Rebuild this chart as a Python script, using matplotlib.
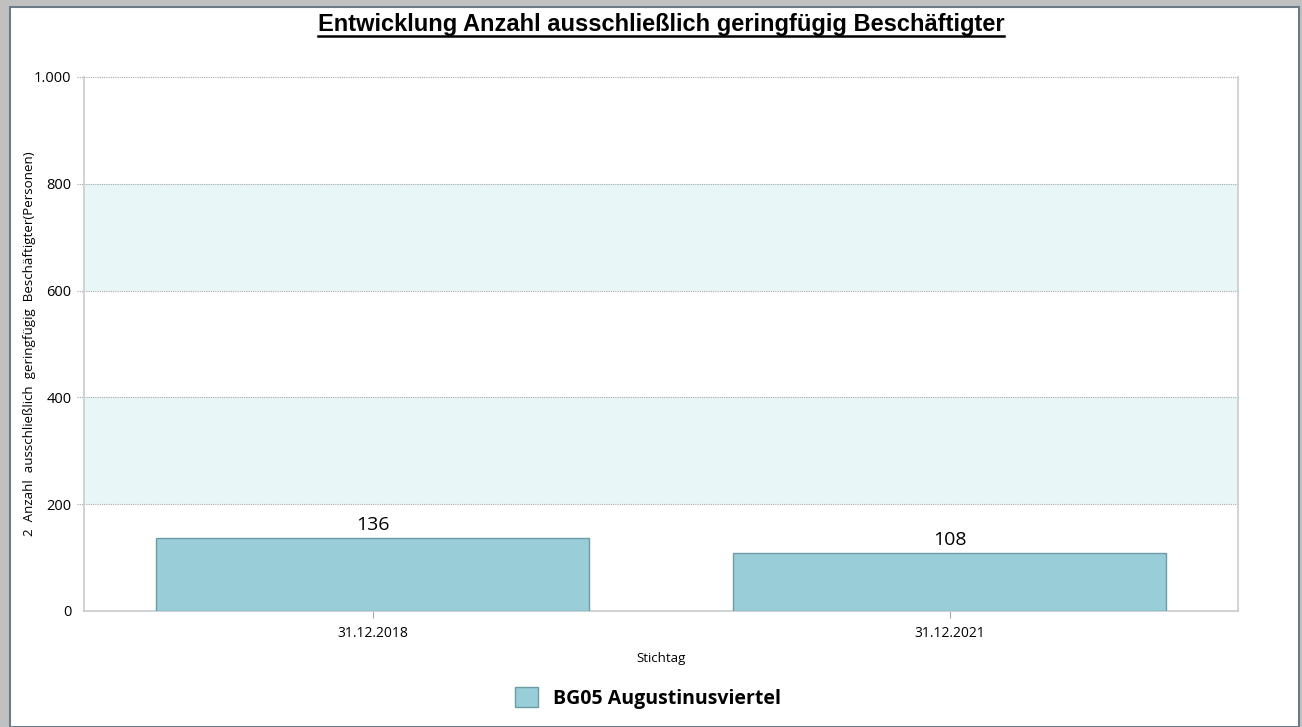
import matplotlib.pyplot as plt
import matplotlib.patches as mpatches
from matplotlib.lines import Line2D

# Data
categories = ["31.12.2018", "31.12.2021"]
values = [136, 108]
series_name = "BG05 Augustinusviertel"
y_ticks = [0, 200, 400, 600, 800, 1000]
y_tick_labels = ["0", "200", "400", "600", "800", "1.000"]

title = "Entwicklung Anzahl ausschließlich geringfügig Beschäftigter"
y_label = "2  Anzahl  ausschließlich  geringfügig  Beschäftigter(Personen)"
x_label = "Stichtag"

BAR_COLOR = "#99cdd7"
BAR_EDGE = "#6b9ca6"
BAND_COLOR = "#e8f6f8"
GRID_COLOR = "#a8a8a8"
SPINE_COLOR = "#c8ccd0"
FONT = ["Open Sans", "DejaVu Sans"]

W, H = 1302, 727
fig = plt.figure(figsize=(W / 100, H / 100), dpi=100, facecolor="#c0c0c0")

# white panel with dark edge (window frame look), kept behind the axes
panel = mpatches.Rectangle((10 / W, 0), (1299 - 10) / W, (H - 7) / H,
                           transform=fig.transFigure, facecolor="white",
                           edgecolor="#6b7b88", linewidth=1.5, zorder=-10)
fig.patches.append(panel)

ax = fig.add_axes([84 / W, (H - 611) / H, 1154 / W, 534 / H])
ax.set_facecolor("white")

# alternating bands
for lo in (200, 600):
    ax.axhspan(lo, lo + 200, color=BAND_COLOR, zorder=0, lw=0)

# dotted grid lines that poke out left like ticks
for y in y_ticks[1:]:
    ax.axhline(y, xmin=-7 / 1154, xmax=1, color=GRID_COLOR, lw=0.8,
               ls=(0, (1, 1)), clip_on=False, zorder=1)

x = list(range(len(categories)))
bars = ax.bar(x, values, width=0.75, color=BAR_COLOR, edgecolor=BAR_EDGE,
              linewidth=1.0, zorder=3)
for rect, v in zip(bars, values):
    ax.text(rect.get_x() + rect.get_width() / 2, v + 8, str(v),
            ha="center", va="bottom", fontsize=14, family=FONT, zorder=4)

ax.set_xlim(-0.5, 1.5)
ax.set_ylim(0, 1000)
ax.set_yticks(y_ticks)
ax.set_yticklabels(y_tick_labels, family=FONT, fontsize=10.5)
ax.set_xticks(x)
ax.set_xticklabels(categories, family=FONT, fontsize=10)
ax.tick_params(axis="y", length=0, pad=9)
ax.tick_params(axis="x", length=5, color=GRID_COLOR, pad=6)
for t in ax.xaxis.get_ticklines():
    t.set_linestyle((0, (1, 1)))

for side in ("left", "right", "bottom"):
    ax.spines[side].set_color(SPINE_COLOR)
    ax.spines[side].set_linewidth(1.2)
ax.spines["top"].set_visible(False)

ax.set_ylabel(y_label, family=FONT, fontsize=9.6)
ax.yaxis.set_label_coords(-0.042, 0.5)
ax.set_xlabel(x_label, family=FONT, fontsize=9.5, labelpad=8)

# title with underline
t = fig.text(661 / W, 1 - 24 / H, title, ha="center", va="center",
             fontsize=17, fontweight="bold", family=["Liberation Sans", "DejaVu Sans"])
fig.canvas.draw()
bb = t.get_window_extent().transformed(fig.transFigure.inverted())
fig.add_artist(Line2D([bb.x0, bb.x1], [bb.y0 - 0.001, bb.y0 - 0.001],
                      transform=fig.transFigure, color="black", lw=1.8))

# legend
handle = mpatches.Patch(facecolor=BAR_COLOR, edgecolor=BAR_EDGE, label=series_name)
fig.legend(handles=[handle], loc="center", bbox_to_anchor=(648 / W, 1 - 698 / H),
           frameon=False, prop={"family": FONT, "weight": "bold", "size": 14},
           handlelength=1.2, handleheight=1.2, handletextpad=0.8)

fig.savefig("out.png", dpi=100, facecolor=fig.get_facecolor())
